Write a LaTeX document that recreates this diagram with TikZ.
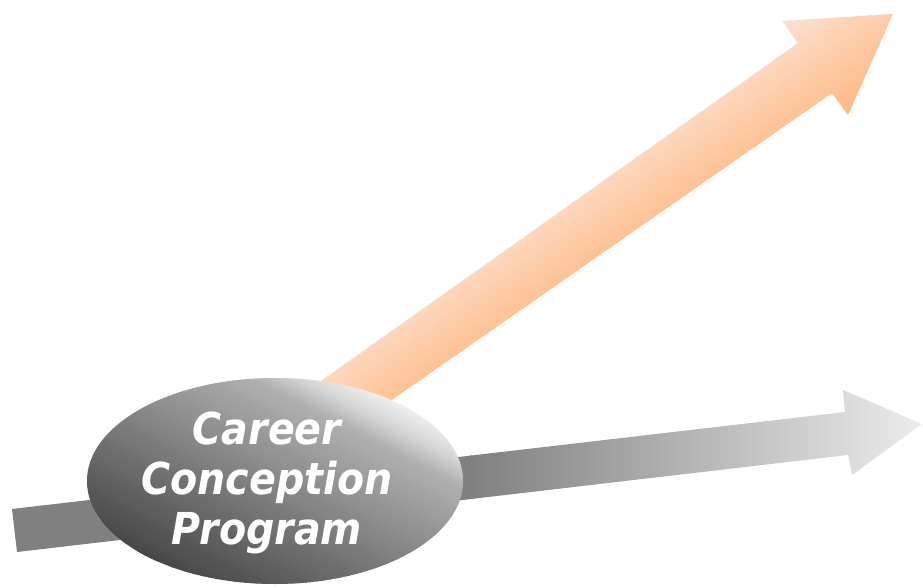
\documentclass[tikz,border=0pt]{standalone}
\usepackage{fontspec}
\usetikzlibrary{shapes.geometric}
\newfontfamily\ccfont[FakeStretch=0.9]{DejaVu Sans}
\definecolor{orL}{RGB}{252,226,210}
\definecolor{orD}{RGB}{255,184,130}
\definecolor{grA}{RGB}{128,128,128}
\definecolor{grB}{RGB}{236,236,236}
\tikzset{
  lbl/.style={text=white, align=center, inner sep=0pt, font=\ccfont\bfseries\itshape\fontsize{44}{50}\selectfont},
  hub/.style={ellipse, minimum width=376pt, minimum height=206pt, inner sep=0pt}
}
\begin{document}
\begin{tikzpicture}[x=1pt,y=1pt]
\useasboundingbox (0,0) rectangle (923,587);
% gray arrow
\begin{scope}
\clip (12,78) -- (845,175) -- (843,197) -- (922,163) -- (852,112) -- (848,132) -- (17,35) -- cycle;
\fill[grA] (0,0) rectangle (472,260);
\shade[left color=grA, right color=grB] (470,0) rectangle (923,260);
\end{scope}
% orange arrow
\begin{scope}
\clip (290,184) -- (798,544) -- (782,566) -- (893,573) -- (848,472) -- (832,494) -- (360,165) -- cycle;
\begin{scope}[rotate=-55.1]
\foreach \k in {0,...,61} {
  \pgfmathsetmacro\pp{-22+2*\k}
  \pgfmathsetmacro\m{min(100,max(0,(\pp+18)/1.15))}
  \fill[orD!\m!orL] (\pp,300) -- (\pp+2.6,300) -- (\pp+2.6,1100) -- (\pp,1100) -- cycle;
}
\end{scope}
\end{scope}
% ellipse
\node[hub] (hub) at (275,106) {};
\begin{scope}
\clip (hub.center) ellipse [x radius=188, y radius=103];
\begin{scope}[shift={(275,106)}, rotate=62.6]
\foreach \ta/\tb/\ga/\gb in {-134/0/68/135, 0/80/135/175, 80/106/175/218, 106/134/218/248} {
  \pgfmathtruncatemacro\n{(\tb-\ta)/2}
  \foreach \k in {1,...,\n} {
    \pgfmathsetmacro\t{\ta+2*(\k-1)}
    \pgfmathsetmacro\p{(\ga+(\gb-\ga)*(\k-0.5)/\n)/2.55}
    \fill[white!\p!black] (\t,-220) -- (\t+2.6,-220) -- (\t+2.6,220) -- (\t,220) -- cycle;
  }
}
\end{scope}
\end{scope}
\node[lbl] (label) at (267,104) {Career\\Conception\\Program};
\end{tikzpicture}
\end{document}
